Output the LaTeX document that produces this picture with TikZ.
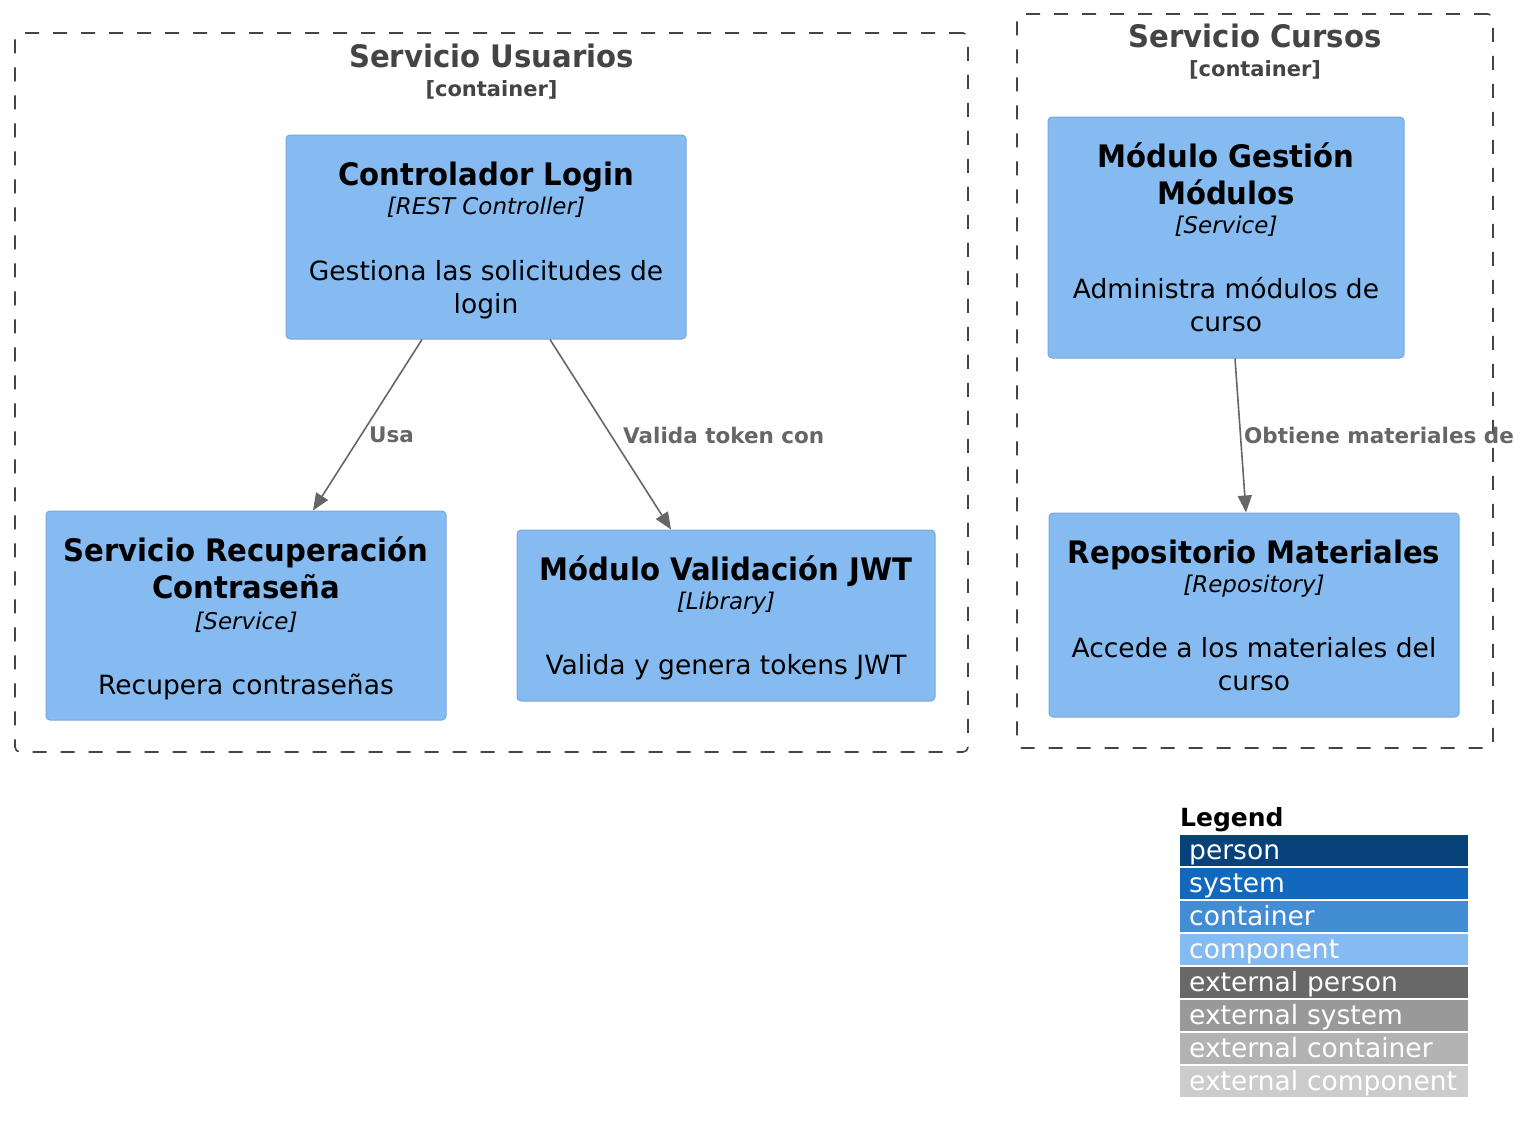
\documentclass[tikz,border=0pt]{standalone}
\usepackage{fontspec}
\setmainfont{DejaVu Sans}
\newfontfamily\ttlfont{DejaVu Sans}[FakeStretch=0.94]
\usetikzlibrary{arrows.meta,calc}
\definecolor{compfill}{HTML}{85BBF0}
\definecolor{compline}{HTML}{78A8D8}
\definecolor{bndline}{HTML}{444444}
\definecolor{reltext}{HTML}{666666}
\definecolor{lgperson}{HTML}{08427B}
\definecolor{lgsystem}{HTML}{1168BD}
\definecolor{lgcontainer}{HTML}{438DD5}
\definecolor{lgcomponent}{HTML}{85BBF0}
\definecolor{lgextperson}{HTML}{686868}
\definecolor{lgextsystem}{HTML}{999999}
\definecolor{lgextcontainer}{HTML}{B3B3B3}
\definecolor{lgextcomponent}{HTML}{CCCCCC}
\tikzset{
  compbox/.style={draw=compline, fill=compfill, line width=1pt, rounded corners=4pt, inner sep=0pt},
  bndbox/.style={draw=bndline, line width=1.6pt, dash pattern=on 14pt off 14pt, rounded corners=5pt, inner sep=0pt},
  ttl/.style={font=\ttlfont\fontsize{31pt}{36pt}\selectfont\bfseries, anchor=base, inner sep=0pt},
  tech/.style={font=\fontsize{23pt}{28pt}\selectfont\itshape, anchor=base, inner sep=0pt},
  desc/.style={font=\fontsize{26.5pt}{32pt}\selectfont, anchor=base, inner sep=0pt},
  bndttl/.style={font=\ttlfont\fontsize{31pt}{36pt}\selectfont\bfseries, text=bndline, anchor=base, inner sep=0pt},
  bndsub/.style={font=\fontsize{21pt}{26pt}\selectfont\bfseries, text=bndline, anchor=base, inner sep=0pt},
  rel/.style={draw=reltext, line width=1.6pt, -{Triangle[length=17pt,width=14pt]}},
  rellabel/.style={font=\fontsize{21.5pt}{26pt}\selectfont\bfseries, text=reltext, anchor=west, inner sep=0pt},
  legrow/.style={anchor=north west, minimum height=31pt, text width=270pt, inner xsep=9pt, inner ysep=0pt,
    text height=22pt, text depth=4pt, align=left, text=white, font=\fontsize{26.5pt}{32pt}\selectfont}
}
\begin{document}
\begin{tikzpicture}[x=1pt,y=-1pt]
\useasboundingbox (0,0) rectangle (1529,1148);

% boundaries
\node[bndbox, minimum width=953pt, minimum height=719pt] (usuarios) at (491.5,392.5) {};
\node[bndttl] (usuariosT) at (491.5,67) {Servicio Usuarios};
\node[bndsub] (usuariosS) at (491.5,96) {[container]};

\node[bndbox, minimum width=476pt, minimum height=734pt] (cursos) at (1255,381) {};
\node[bndttl] (cursosT) at (1255,48) {Servicio Cursos};
\node[bndsub] (cursosS) at (1255,77) {[container]};

% components
\node[compbox, minimum width=400pt, minimum height=204pt] (ctrl) at (486,237) {};
\node[ttl] (ctrlA) at (486,185) {Controlador Login};
\node[tech] (ctrlB) at (486,214) {[REST Controller]};
\node[desc] (ctrlC) at (486,280) {Gestiona las solicitudes de};
\node[desc] (ctrlD) at (486,313) {login};

\node[compbox, minimum width=400pt, minimum height=209pt] (rec) at (246,615.5) {};
\node[ttl] (recA) at (246,561) {Servicio Recuperación};
\node[ttl] (recB) at (246,598) {Contraseña};
\node[tech] (recC) at (246,629) {[Service]};
\node[desc] (recD) at (246,694) {Recupera contraseñas};

\node[compbox, minimum width=418pt, minimum height=171pt] (jwt) at (726,615.5) {};
\node[ttl] (jwtA) at (726,580) {Módulo Validación JWT};
\node[tech] (jwtB) at (726,609) {[Library]};
\node[desc] (jwtC) at (726,674) {Valida y genera tokens JWT};

\node[compbox, minimum width=356pt, minimum height=241pt] (gest) at (1226,237.5) {};
\node[ttl] (gestA) at (1226,167) {Módulo Gestión};
\node[ttl] (gestB) at (1226,204) {Módulos};
\node[tech] (gestC) at (1226,233) {[Service]};
\node[desc] (gestD) at (1226,298) {Administra módulos de};
\node[desc] (gestE) at (1226,331) {curso};

\node[compbox, minimum width=410pt, minimum height=204pt] (repo) at (1254,615) {};
\node[ttl] (repoA) at (1254,563) {Repositorio Materiales};
\node[tech] (repoB) at (1254,592) {[Repository]};
\node[desc] (repoC) at (1254,657) {Accede a los materiales del};
\node[desc] (repoD) at (1254,690) {curso};

% relations
\draw[rel] ([xshift=-64pt]ctrl.south) -- ([xshift=67pt]rec.north);
\node[rellabel] (l1) at (369,435) {Usa};
\draw[rel] ([xshift=64pt]ctrl.south) -- ([xshift=-55pt]jwt.north);
\node[rellabel] (l2) at (623,435) {Valida token con};
\draw[rel] ([xshift=9pt]gest.south) -- ([xshift=-8pt]repo.north);
\node[rellabel] (l3) at (1244,435) {Obtiene materiales de};

% legend
\node[font=\fontsize{25pt}{30pt}\selectfont\bfseries, anchor=base west, inner sep=0pt] (legT) at (1180,826) {Legend};
\node[legrow, fill=lgperson] (lg1) at (1180,835) {person};
\node[legrow, fill=lgsystem] (lg2) at (1180,868) {system};
\node[legrow, fill=lgcontainer] (lg3) at (1180,901) {container};
\node[legrow, fill=lgcomponent] (lg4) at (1180,934) {component};
\node[legrow, fill=lgextperson] (lg5) at (1180,967) {external person};
\node[legrow, fill=lgextsystem] (lg6) at (1180,1000) {external system};
\node[legrow, fill=lgextcontainer] (lg7) at (1180,1033) {external container};
\node[legrow, fill=lgextcomponent] (lg8) at (1180,1066) {external component};
\end{tikzpicture}
\end{document}
